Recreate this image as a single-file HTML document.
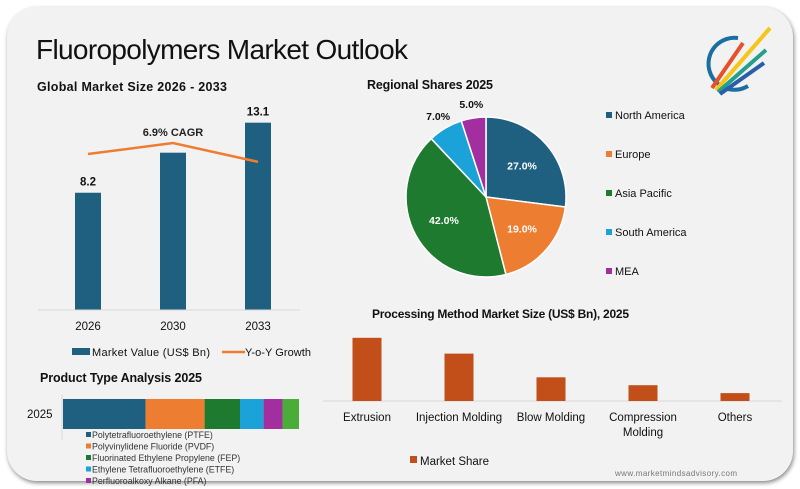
<!DOCTYPE html>
<html><head><meta charset="utf-8"><style>
body{margin:0;width:800px;height:489px;background:#fff;overflow:hidden;font-family:"Liberation Sans",sans-serif}
#card{position:absolute;left:7px;top:7px;width:786px;height:474px;background:#f2f2f2;border-radius:30px;box-shadow:1px 2px 4px #888}
svg{position:absolute;left:0;top:0}
</style></head><body>
<div id="card"></div>
<svg id="s" width="800" height="489" xmlns="http://www.w3.org/2000/svg" font-family="Liberation Sans, sans-serif">
<text x="36" y="59" font-size="28" fill="#111" textLength="372">Fluoropolymers Market Outlook</text>
<text x="37" y="91" font-size="12.5" font-weight="bold" fill="#111" textLength="190">Global Market Size 2026 - 2033</text>
<text x="367" y="89" font-size="12.5" font-weight="bold" fill="#111" textLength="126">Regional Shares 2025</text>
<text x="372" y="318" font-size="12" font-weight="bold" fill="#111" textLength="257">Processing Method Market Size (US$ Bn), 2025</text>
<text x="40" y="382" font-size="12.5" font-weight="bold" fill="#111" textLength="162">Product Type Analysis 2025</text>
<text x="615" y="476" font-size="8" fill="#777" textLength="122">www.marketmindsadvisory.com</text>
<g>
<path d="M738 38 A26 26 0 1 0 748 86" fill="none" stroke="#1a6fa0" stroke-width="4"/>
<line x1="712" y1="88" x2="743" y2="43" stroke="#e8502a" stroke-width="4"/>
<line x1="716" y1="90" x2="770" y2="28" stroke="#f5c518" stroke-width="4"/>
<line x1="718" y1="92" x2="766" y2="50" stroke="#23a08a" stroke-width="4"/>
<line x1="720" y1="94" x2="764" y2="63" stroke="#2a5ea8" stroke-width="4"/>
</g>
<g id="g1"></g><g id="g2"></g><g id="g3"></g><g id="g4"></g>
</svg>
<script>
const NS="http://www.w3.org/2000/svg";
const years=["2026","2030","2033"];
const marketValues=[8.2,11.0,13.1];
const marketLabels=["8.2","","13.1"];
const growth=[6.5,7.2,6.0];
const regions=["North America","Europe","Asia Pacific","South America","MEA"];
const regionShares=[27,19,42,7,5];
const regionColors=["#1f5f7f","#ed7d31","#1e7a2f","#1aa2d9","#a22ea0"];
const methods=["Extrusion","Injection Molding","Blow Molding","Compression|Molding","Others"];
const methodValues=[8.0,6.0,3.0,2.0,1.0];
const products=["Polytetrafluoroethylene (PTFE)","Polyvinylidene Fluoride (PVDF)","Fluorinated Ethylene Propylene (FEP)","Ethylene Tetrafluoroethylene (ETFE)","Perfluoroalkoxy Alkane (PFA)","Others"];
const productShares=[35,25,15,10,8,7];
const productColors=["#1f5f7f","#ed7d31","#1e7a2f","#1aa2d9","#a22ea0","#4aad3a"];
function el(t,a,p,txt){const e=document.createElementNS(NS,t);for(const k in a)e.setAttribute(k,a[k]);if(txt!==undefined)e.textContent=txt;p.appendChild(e);return e;}
// chart 1
const g1=document.getElementById('g1');
const base1=310,k1=14.3,x1=i=>88+i*85;
const yG=v=>154-(v-6.5)*15.7;
years.forEach((y,i)=>{
 const h=marketValues[i]*k1;
 const r=el('rect',{x:x1(i)-13,y:base1-h,width:26,height:h,fill:'#1f5f7f'},g1);
 
 const t=el('text',{x:x1(i),y:330,'font-size':11.5,'text-anchor':'middle',fill:'#111'},g1,y);
 
 if(marketLabels[i]){const v=el('text',{x:x1(i),y:base1-h-7,'font-size':11.5,'font-weight':'bold','text-anchor':'middle',fill:'#111'},g1,marketLabels[i]);
 }
});
el('line',{x1:38,y1:base1,x2:300,y2:base1,stroke:'#d8d8d8'},g1);
const pl=el('polyline',{points:growth.map((v,i)=>x1(i)+','+yG(v)).join(' '),fill:'none',stroke:'#ed7d31','stroke-width':2.5},g1);

const cg=el('text',{x:173,y:136,'font-size':11,'font-weight':'bold','text-anchor':'middle',fill:'#222'},g1,'6.9% CAGR');

let l=el('rect',{x:72,y:348,width:18,height:7,fill:'#1f5f7f'},g1);

el('text',{x:92,y:356,'font-size':11,fill:'#111',textLength:118},g1,'Market Value (US$ Bn)');
l=el('line',{x1:222,y1:352,x2:245,y2:352,stroke:'#ed7d31','stroke-width':2.5},g1);

el('text',{x:245,y:356,'font-size':11,fill:'#111',textLength:66},g1,'Y-o-Y Growth');
// pie
const g2=document.getElementById('g2');
const cx=486,cy=197,R=80;let a0=-Math.PI/2;const tot=regionShares.reduce((a,b)=>a+b,0);
regionShares.forEach((s,i)=>{
 const a1=a0+s/tot*2*Math.PI;
 const p=el('path',{d:`M${cx},${cy} L${cx+R*Math.cos(a0)},${cy+R*Math.sin(a0)} A${R},${R} 0 ${a1-a0>Math.PI?1:0} 1 ${cx+R*Math.cos(a1)},${cy+R*Math.sin(a1)} Z`,fill:regionColors[i],stroke:'#fff','stroke-width':1.5},g2);
 
 const am=(a0+a1)/2;const inside=s>10;const rr=inside?R*0.6:R+14;
 const t=el('text',{x:cx+rr*Math.cos(am),y:cy+rr*Math.sin(am)+4,'font-size':10.5,'font-weight':'bold','text-anchor':'middle',fill:inside?'#fff':'#111'},g2,s.toFixed(1)+'%');
 
 const ly=116+i*39;
 const lr=el('rect',{x:606,y:ly-4,width:6,height:6,fill:regionColors[i]},g2);
 
 el('text',{x:615,y:ly+3,'font-size':11,fill:'#111'},g2,regions[i]);
 a0=a1;
});
// processing
const g3=document.getElementById('g3');
const base3=401,k3=7.9,x3=i=>367+i*92;
el('line',{x1:323,y1:base3,x2:782,y2:base3,stroke:'#d8d8d8'},g3);
methods.forEach((m,i)=>{
 const h=methodValues[i]*k3;
 const r=el('rect',{x:x3(i)-14.5,y:base3-h,width:29,height:h,fill:'#c24f1a'},g3);
 
 m.split('|').forEach((ln,j)=>el('text',{x:x3(i),y:421+j*15,'font-size':11.5,'text-anchor':'middle',fill:'#111'},g3,ln));
});
l=el('rect',{x:410,y:456,width:7,height:7,fill:'#c24f1a'},g3);

el('text',{x:420,y:465,'font-size':11.5,fill:'#111'},g3,'Market Share');
// product
const g4=document.getElementById('g4');
const px0=63,pw=236,pt=productShares.reduce((a,b)=>a+b,0);let px=px0;
el('line',{x1:62,y1:395,x2:62,y2:440,stroke:'#d8d8d8'},g4);
el('text',{x:27,y:418,'font-size':11.5,fill:'#111'},g4,'2025');
productShares.forEach((s,i)=>{
 const w=s/pt*pw;
 const r=el('rect',{x:px,y:399,width:w,height:30,fill:productColors[i]},g4);
 
 px+=w;
 if(i<5){const ly=433+i*11.5;
  const lr=el('rect',{x:86,y:ly-1,width:5,height:5,fill:productColors[i]},g4);
  
  el('text',{x:92,y:ly+5,'font-size':8.8,fill:'#333'},g4,products[i]);}
});
</script>
</body></html>
